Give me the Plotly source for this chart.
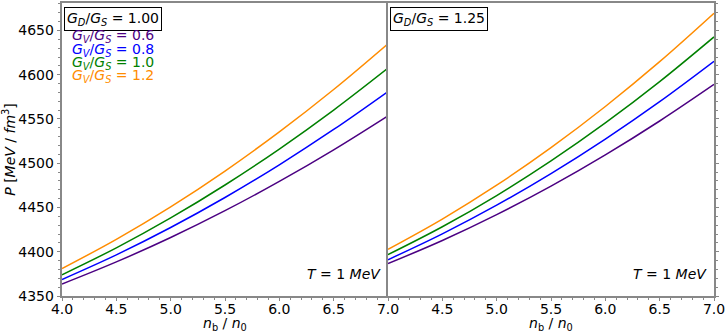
import plotly.graph_objects as go
from plotly.subplots import make_subplots

# ---- data ----
n_ratio = [4.0, 4.5, 5.0, 5.5, 6.0, 6.5, 7.0]

# G_D/G_S = 1.00 panel
p100_gv06 = [4363.5, 4388.5, 4416.1, 4446.4, 4479.5, 4515.2, 4553.6]
p100_gv08 = [4368.7, 4396.5, 4427.4, 4461.3, 4498.2, 4538.1, 4581.0]
p100_gv10 = [4374.0, 4404.4, 4438.2, 4475.4, 4516.0, 4560.0, 4607.4]
p100_gv12 = [4381.0, 4414.0, 4450.7, 4491.2, 4535.4, 4583.3, 4635.0]

# G_D/G_S = 1.25 panel
p125_gv06 = [4386.6, 4412.7, 4441.9, 4474.1, 4509.4, 4547.7, 4589.0]
p125_gv08 = [4391.0, 4420.2, 4452.6, 4488.3, 4527.3, 4569.6, 4615.2]
p125_gv10 = [4396.7, 4428.2, 4463.5, 4502.6, 4545.5, 4592.2, 4642.7]
p125_gv12 = [4402.7, 4436.9, 4475.2, 4517.6, 4564.1, 4614.7, 4669.4]

gv_labels = ["0.6", "0.8", "1.0", "1.2"]
gd_labels = ["1.00", "1.25"]
colors = ["#4B0082", "#0000FF", "#008000", "#FF8C00"]

x_ticks_left = [4.0, 4.5, 5.0, 5.5, 6.0, 6.5, 7.0]
x_ticks_right = [4.5, 5.0, 5.5, 6.0, 6.5, 7.0]
y_ticks = [4350, 4400, 4450, 4500, 4550, 4600, 4650]

FONT = "DejaVu Sans"
AXC = "#888888"

fig = make_subplots(rows=1, cols=2, horizontal_spacing=0, shared_yaxes=False)

left = [p100_gv06, p100_gv08, p100_gv10, p100_gv12]
right = [p125_gv06, p125_gv08, p125_gv10, p125_gv12]
for i in range(4):
    fig.add_trace(go.Scatter(x=n_ratio, y=left[i], mode="lines", line=dict(color=colors[i], width=1.5, shape="spline"),
                             showlegend=False), row=1, col=1)
    fig.add_trace(go.Scatter(x=n_ratio, y=right[i], mode="lines", line=dict(color=colors[i], width=1.5, shape="spline"),
                             showlegend=False), row=1, col=2)

xcommon = dict(range=[4.0, 7.0], showline=True, linecolor=AXC, linewidth=1.5, mirror=True,
               ticks="outside", ticklen=3.5, tickcolor=AXC, showgrid=False, zeroline=False,
               ticklabelstandoff=-4,
               tickfont=dict(family=FONT, size=14, color="black"),
               minor=dict(dtick=0.1, ticks="outside", ticklen=2, tickcolor=AXC))
fig.update_xaxes(**xcommon, tickvals=x_ticks_left, ticktext=[f"{v:.1f}" for v in x_ticks_left], row=1, col=1)
fig.update_xaxes(**xcommon, tickvals=x_ticks_right, ticktext=[f"{v:.1f}" for v in x_ticks_right], row=1, col=2)

ycommon = dict(range=[4350, 4681], showline=True, linecolor=AXC, linewidth=1.5,
               ticks="outside", ticklen=3.5, tickcolor=AXC, showgrid=False, zeroline=False,
               tickvals=y_ticks, tickfont=dict(family=FONT, size=14, color="black"),
               minor=dict(dtick=10, ticks="outside", ticklen=2, tickcolor=AXC))
fig.update_yaxes(**ycommon, side="left", mirror=False,
                 title=dict(text="<i>P</i> [<i>MeV</i> / <i>fm</i><sup>3</sup>]", font=dict(family=FONT, size=14, color="black"),
                            standoff=4), row=1, col=1)
fig.update_yaxes(**ycommon, side="right", mirror=True, showticklabels=False, row=1, col=2)

# x-axis titles, boxed panel labels and temperature labels
for j, xr in enumerate(["x domain", "x2 domain"]):
    fig.add_annotation(xref=xr, yref="y domain", x=0.5, y=-0.097, xanchor="center", yanchor="middle",
                       text="<i>n</i><sub>b</sub> / <i>n</i><sub>0</sub>", showarrow=False,
                       font=dict(family=FONT, size=14, color="black"))
    fig.add_annotation(xref=xr, yref="y domain", x=0.005, y=0.985, xanchor="left", yanchor="top",
                       text=f"<i>G</i><sub><i>D</i></sub>/<i>G</i><sub><i>S</i></sub> = {gd_labels[j]}", showarrow=False,
                       font=dict(family=FONT, size=14, color="black"),
                       bordercolor="black", borderwidth=1, borderpad=2, bgcolor="white")
    fig.add_annotation(xref=xr, yref="y domain", x=0.985, y=0.075, xanchor="right", yanchor="middle",
                       text="<i>T</i> = 1 <i>MeV</i>", showarrow=False,
                       font=dict(family=FONT, size=14, color="black"))

# coloured G_V/G_S labels
for i in range(4):
    fig.add_annotation(xref="x domain", yref="paper", x=0.025, y=1 - (33.5 + 13.5 * i) / 295,
                       xanchor="left", yanchor="middle",
                       text=f"<i>G</i><sub><i>V</i></sub>/<i>G</i><sub><i>S</i></sub> = {gv_labels[i]}", showarrow=False,
                       font=dict(family=FONT, size=14, color=colors[i]))

fig.update_layout(width=726, height=333, margin=dict(l=62, r=12, t=1, b=37),
                  plot_bgcolor="white", paper_bgcolor="white", showlegend=False)

fig.write_html("out.html", config={"displayModeBar": False},
               post_script="document.body.style.margin='0';document.body.style.overflow='hidden';")
